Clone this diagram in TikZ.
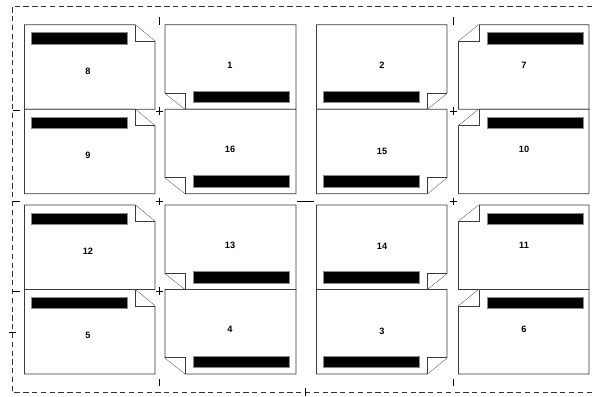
\documentclass[tikz,border=0pt]{standalone}
\usepackage{fontspec}
\setsansfont{Liberation Sans}
\usepackage{xcolor}
\definecolor{cLine}{HTML}{3A3A3A}
\definecolor{cBar}{HTML}{000000}
\tikzset{
  sheet/.style={draw=cLine, line width=0.65pt, fill=white, line join=miter},
  fold/.style ={draw=cLine, line width=0.55pt, fill=white},
  bar/.style  ={fill=cBar, draw=cLine!60, line width=0.25pt},
  num/.style  ={font=\sffamily\bfseries\fontsize{6.9}{7}\selectfont, inner sep=0pt},
  trim/.style ={draw=black, line width=0.42pt},
  cutline/.style={draw=black!80, line width=0.6pt, dash pattern=on 4pt off 2.6pt},
  % one sheet for each corner that is turned over
  foldTR/.pic={
    \draw[sheet] (0,0)--(110.5,0)--(130.5,16.5)--(130.5,84.5)--(0,84.5)--cycle;
    \draw[fold] (110.5,0)--(110.5,16.5)--(130.5,16.5);
    \fill[bar] (6.5,7.7) rectangle (102.5,18.9);
  },
  foldBL/.pic={
    \draw[sheet] (0,0)--(131,0)--(131,84.5)--(20.5,84.5)--(0,68.3)--cycle;
    \draw[fold] (0,68.3)--(20.5,68.3)--(20.5,84.5);
    \fill[bar] (28.5,66.2) rectangle (124.5,77.8);
  },
  foldBR/.pic={
    \draw[sheet] (0,0)--(130.5,0)--(130.5,68.3)--(110.5,84.5)--(0,84.5)--cycle;
    \draw[fold] (130.5,68.3)--(110.5,68.3)--(110.5,84.5);
    \fill[bar] (7,66.2) rectangle (103,77.8);
  },
  foldTL/.pic={
    \draw[sheet] (20.5,0)--(130.5,0)--(130.5,84.5)--(0,84.5)--(0,16.5)--cycle;
    \draw[fold] (0,16.5)--(20.5,16.5)--(20.5,0);
    \fill[bar] (28.5,7.7) rectangle (124.5,18.9);
  },
}

\begin{document}
\begin{tikzpicture}[x=0.75pt, y=-0.75pt]
  \useasboundingbox (0,0) rectangle (592,396);
  % cut line round the form
  \draw[cutline] (592,6)--(12.5,6)--(12.5,392.5)--(592,392.5);

  % left column
  \pic at (24.5,24.8)  {foldTR};
  \pic at (24.5,109.3) {foldTR};
  \pic at (24.5,205) {foldTR};
  \pic at (24.5,289.5) {foldTR};
  \node[num] (p8)  at (88,71.5) {8};
  \node[num] (p9)  at (88,155.5) {9};
  \node[num] (p12) at (88,251.5) {12};
  \node[num] (p5)  at (88,335.5) {5};

  % second column
  \pic at (165,24.8)  {foldBL};
  \pic at (165,109.3) {foldBL};
  \pic at (165,205) {foldBL};
  \pic at (165,289.5) {foldBL};
  \node[num] (p1)  at (230,65) {1};
  \node[num] (p16) at (230,149.5) {16};
  \node[num] (p13) at (230,245) {13};
  \node[num] (p4)  at (230,329.5) {4};

  % third column
  \pic at (316.5,24.8)  {foldBR};
  \pic at (316.5,109.3) {foldBR};
  \pic at (316.5,205) {foldBR};
  \pic at (316.5,289.5) {foldBR};
  \node[num] (p2)  at (382,65) {2};
  \node[num] (p15) at (382,151) {15};
  \node[num] (p14) at (382,246.5) {14};
  \node[num] (p3)  at (382,331) {3};

  % right column
  \pic at (458.5,24.8)  {foldTL};
  \pic at (458.5,109.3) {foldTL};
  \pic at (458.5,205) {foldTL};
  \pic at (458.5,289.5) {foldTL};
  \node[num] (p7)  at (524,65) {7};
  \node[num] (p10) at (524,149.5) {10};
  \node[num] (p11) at (524,245) {11};
  \node[num] (p6)  at (524,329.5) {6};

  % trim marks
  \draw[trim] (159.5,17)--(159.5,25);
  \draw[trim] (453.5,17)--(453.5,25);
  \draw[trim] (156,111)--(163,111) (159.5,107)--(159.5,115);
  \draw[trim] (449.5,111)--(456.5,111) (453,107)--(453,115);
  \draw[trim] (12.5,110.5)--(20,110.5);
  \draw[trim] (156,201)--(163,201) (159.5,197.5)--(159.5,204.5);
  \draw[trim] (449.5,201)--(456.5,201) (453,197.5)--(453,204.5);
  \draw[trim] (12.5,201)--(20,201);
  \draw[trim] (297,201)--(313.5,201);
  \draw[trim] (156,291)--(163,291) (159.5,287)--(159.5,295);
  \draw[trim] (12.5,291)--(20,291);
  \draw[trim] (9,332.5)--(16,332.5);
  \draw[trim] (159.5,379)--(159.5,386);
  \draw[trim] (453.5,379)--(453.5,386);
  \draw[trim] (305,388)--(305,396);
\end{tikzpicture}
\end{document}
